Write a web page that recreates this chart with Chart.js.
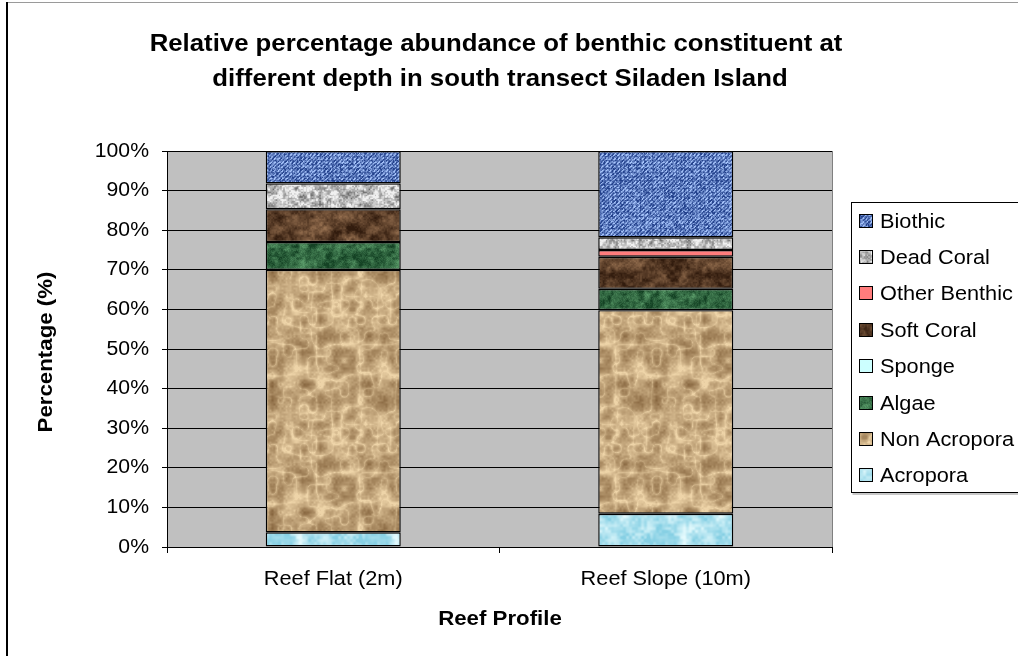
<!DOCTYPE html>
<html>
<head>
<meta charset="utf-8">
<script src="https://cdn.jsdelivr.net/npm/chart.js@4/dist/chart.umd.min.js"></script>
<style>
  html, body { margin: 0; padding: 0; background: #ffffff; }
  #wrap { width: 1018px; height: 656px; }
</style>
</head>
<body>
<div id="wrap"><canvas id="c" width="1018" height="656"></canvas></div>
<script>
// Reef profile categories
const profiles = ['Reef Flat (2m)', 'Reef Slope (10m)'];

// Benthic constituent shares (%) per profile, bottom of the stack first
const acropora     = [3.7, 8.4];
const nonAcropora  = [66.3, 51.4];
const algae        = [7.0, 5.4];
const sponge       = [0, 0];
const softCoral    = [8.3, 8.1];
const otherBenthic = [0, 1.7];
const deadCoral    = [6.5, 3.2];
const biothic      = [8.2, 21.8];

// Y-axis tick values
const yTicks = [0, 10, 20, 30, 40, 50, 60, 70, 80, 90, 100];

const titleLines = [
  'Relative percentage abundance of benthic constituent at',
  'different depth in south transect Siladen Island'
];

const FONT = '"Liberation Sans", Arial, sans-serif';
const TEXT_STRETCH = 1.06;   // slightly wide lettering

const canvas = document.getElementById('c');
const ctx0 = canvas.getContext('2d');

// Draw every text run slightly widened around its anchor point
const plainFillText = ctx0.fillText;
ctx0.fillText = function (text, x, y, maxWidth) {
  this.save();
  this.translate(x, y);
  this.scale(TEXT_STRETCH, 1);
  plainFillText.call(this, text, 0, 0);
  this.restore();
};

// ---- textures (tileable value noise) ----
function hash(x, y, s) {
  let h = (x * 374761393 + y * 668265263 + s * 982451653) | 0;
  h = Math.imul(h ^ (h >>> 13), 1274126177);
  h = h ^ (h >>> 16);
  return (h >>> 0) / 4294967295;
}
function noiseAt(x, y, cell, size, seed) {
  const n = Math.max(1, Math.round(size / cell));
  const fx = x / cell, fy = y / cell;
  const ix = Math.floor(fx), iy = Math.floor(fy);
  let tx = fx - ix, ty = fy - iy;
  tx = tx * tx * (3 - 2 * tx); ty = ty * ty * (3 - 2 * ty);
  const v = (i, j) => hash(((i % n) + n) % n, ((j % n) + n) % n, seed);
  const a = v(ix, iy), b = v(ix + 1, iy), c = v(ix, iy + 1), d = v(ix + 1, iy + 1);
  return (a + (b - a) * tx) * (1 - ty) + (c + (d - c) * tx) * ty;
}
function texture(dark, light, o) {
  const size = o.size || 96;
  const cv = document.createElement('canvas');
  cv.width = size; cv.height = size;
  const g = cv.getContext('2d');
  const img = g.createImageData(size, size);
  for (let y = 0; y < size; y++) {
    for (let x = 0; x < size; x++) {
      let v = 0, wsum = 0;
      o.octaves.forEach((oc, k) => {
        let nv = noiseAt(x, y, oc[0], size, (o.seed || 1) + k * 31);
        if (o.ridge && k < 2) nv = 1 - Math.pow(Math.abs(nv * 2 - 1), 0.6) * 0.9;
        v += nv * oc[1]; wsum += oc[1];
      });
      v /= wsum;
      if (o.weave) v = v * 0.7 + (((x + y) % 4 < 2) ? 0.3 : 0.0) * ((x % 4 === 0 || y % 4 === 0) ? 0.3 : 1);
      v = Math.max(0, Math.min(1, (v - 0.5) * (o.contrast || 1.4) + 0.5 + (o.bias || 0)));
      const i = (y * size + x) * 4;
      img.data[i]     = dark[0] + (light[0] - dark[0]) * v;
      img.data[i + 1] = dark[1] + (light[1] - dark[1]) * v;
      img.data[i + 2] = dark[2] + (light[2] - dark[2]) * v;
      img.data[i + 3] = 255;
    }
  }
  g.putImageData(img, 0, 0);
  return ctx0.createPattern(cv, 'repeat');
}

const fills = {
  biothic: texture([35, 65, 140], [165, 195, 250], { seed: 3, octaves: [[2, 1], [1, 1]], weave: true, contrast: 1.7, bias: 0.02 }),
  dead:    texture([110, 110, 110], [240, 240, 240], { seed: 5, octaves: [[4, 1], [1.5, 0.8]], contrast: 1.6, bias: 0.12 }),
  other:   '#ff7c7c',
  soft:    texture([50, 28, 14], [150, 112, 80], { seed: 9, octaves: [[12, 1], [4, 0.7], [1.5, 0.4]], contrast: 1.6, bias: -0.08 }),
  sponge:  '#ccffff',
  algae:   texture([20, 66, 36], [90, 155, 105], { seed: 11, octaves: [[8, 1], [3, 0.8], [1, 0.4]], contrast: 1.6, bias: -0.08 }),
  nonacro: texture([120, 86, 48], [238, 212, 168], { size: 128, seed: 13, octaves: [[16, 1], [8, 0.8], [2, 0.3]], ridge: true, contrast: 1.3, bias: 0.1 }),
  acro:    texture([135, 208, 228], [228, 250, 253], { seed: 17, octaves: [[12, 1], [3, 0.6]], contrast: 1.4, bias: -0.1 })
};

const datasets = [
  { label: 'Acropora',      data: acropora,     backgroundColor: fills.acro },
  { label: 'Non Acropora',  data: nonAcropora,  backgroundColor: fills.nonacro },
  { label: 'Algae',         data: algae,        backgroundColor: fills.algae },
  { label: 'Sponge',        data: sponge,       backgroundColor: fills.sponge },
  { label: 'Soft Coral',    data: softCoral,    backgroundColor: fills.soft },
  { label: 'Other Benthic', data: otherBenthic, backgroundColor: fills.other },
  { label: 'Dead Coral',    data: deadCoral,    backgroundColor: fills.dead },
  { label: 'Biothic',       data: biothic,      backgroundColor: fills.biothic }
].map(d => Object.assign(d, {
  borderColor: '#000000',
  borderWidth: 1.4,
  borderSkipped: false,
  categoryPercentage: 1.0,
  barPercentage: 0.406
}));

// Frame, plot background, titles and a boxed legend
const decor = {
  id: 'decor',
  beforeDraw(chart) {
    const c = chart.ctx, a = chart.chartArea;
    c.save();
    c.fillStyle = '#ffffff';
    c.fillRect(0, 0, chart.width, chart.height);
    c.fillStyle = '#c0c0c0';
    c.fillRect(a.left, a.top, a.right - a.left, a.bottom - a.top);
    c.restore();
  },
  afterDraw(chart) {
    const c = chart.ctx, a = chart.chartArea;
    c.save();
    // right edge of plot area
    c.strokeStyle = '#808080';
    c.lineWidth = 1;
    c.beginPath(); c.moveTo(a.right + 0.5, a.top); c.lineTo(a.right + 0.5, a.bottom); c.stroke();

    // outer frame
    c.strokeStyle = '#9a9a9a';
    c.beginPath(); c.moveTo(6, 2.5); c.lineTo(chart.width, 2.5); c.stroke();
    c.strokeStyle = '#000000';
    c.lineWidth = 2;
    c.beginPath(); c.moveTo(7, 2); c.lineTo(7, chart.height); c.stroke();

    // title
    c.fillStyle = '#000000';
    c.textAlign = 'center';
    c.textBaseline = 'alphabetic';
    c.font = 'bold 24.3px ' + FONT;
    c.fillText(titleLines[0], 496, 51);
    c.fillText(titleLines[1], 500, 85.5);

    // axis titles
    c.font = 'bold 21px ' + FONT;
    c.textBaseline = 'middle';
    c.fillText('Reef Profile', 500, 619);
    c.save();
    c.translate(46, 352);
    c.rotate(-Math.PI / 2);
    c.fillText('Percentage (%)', 0, 0);
    c.restore();

    // legend
    const lx = 851.5, ly = 202.5, lh = 290;
    c.fillStyle = '#ffffff';
    c.fillRect(lx, ly, 200, lh);
    c.strokeStyle = '#909090';
    c.lineWidth = 1;
    c.beginPath(); c.moveTo(lx + 1, ly + lh + 1.5); c.lineTo(1030, ly + lh + 1.5); c.stroke();
    c.strokeStyle = '#000000';
    c.strokeRect(lx, ly, 200, lh);
    c.font = '20.5px ' + FONT;
    c.textAlign = 'left';
    c.textBaseline = 'alphabetic';
    const items = chart.data.datasets.slice().reverse();
    items.forEach((ds, i) => {
      const base = 227.5 + i * 36.4;
      const top = Math.round(base - 13);
      c.fillStyle = ds.backgroundColor;
      c.fillRect(860, top, 12, 12);
      c.strokeStyle = '#000000';
      c.lineWidth = 1;
      c.strokeRect(859.5, top - 0.5, 13, 13);
      c.fillStyle = '#000000';
      c.fillText(ds.label, 880, base);
    });
    c.restore();
  }
};

new Chart(canvas, {
  type: 'bar',
  data: { labels: profiles, datasets },
  options: {
    responsive: false,
    animation: false,
    layout: { padding: { left: 0, top: 151, right: 186, bottom: 0 } },
    plugins: { legend: { display: false }, title: { display: false }, tooltip: { enabled: false } },
    scales: {
      x: {
        stacked: true,
        offset: true,
        afterFit(s) { s.height = 109; },
        grid: { display: true, drawOnChartArea: false, drawTicks: true, tickLength: 6, color: '#000000', offset: true },
        border: { display: true, color: '#000000', width: 1 },
        ticks: { color: '#000000', font: { family: FONT, size: 20.5 }, padding: 14 }
      },
      y: {
        stacked: true,
        min: 0,
        max: 100,
        afterFit(s) { s.width = 167; },
        afterBuildTicks(s) { s.ticks = yTicks.map(v => ({ value: v })); },
        grid: { color: '#000000', lineWidth: 1, tickLength: 5, drawTicks: true },
        border: { display: true, color: '#000000', width: 1 },
        ticks: { color: '#000000', font: { family: FONT, size: 20 }, padding: 13, callback: v => v + '%' }
      }
    }
  },
  plugins: [decor]
});
</script>
</body>
</html>
